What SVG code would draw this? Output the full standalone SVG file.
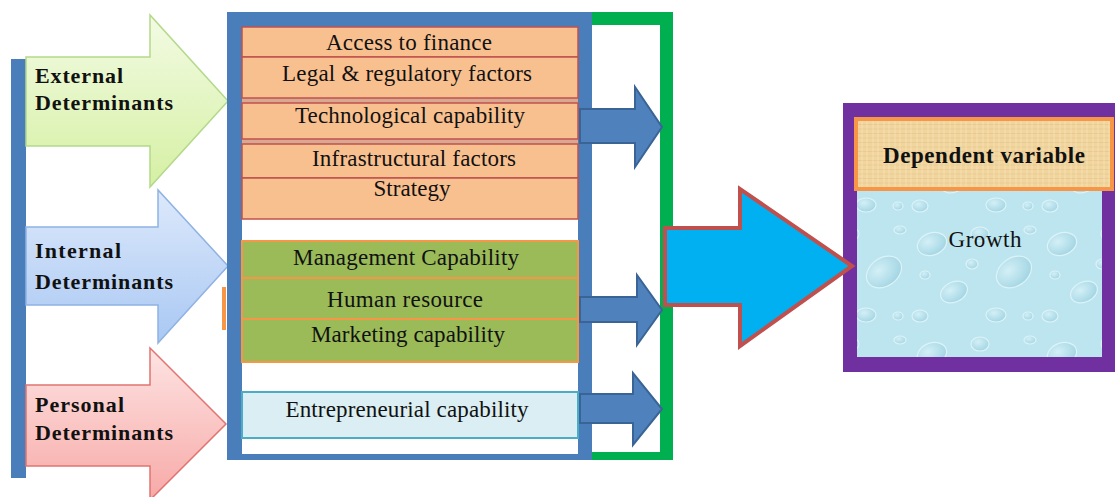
<svg xmlns="http://www.w3.org/2000/svg" width="1115" height="497" viewBox="0 0 1115 497">
  <style>
    .lbl { font-family: "Liberation Serif", "Times New Roman", serif; font-weight: bold; font-size: 22px; fill: #111; }
    .row { font-family: "Liberation Serif", "Times New Roman", serif; font-size: 23px; fill: #111; text-anchor: middle; }
    .ext-row { fill: #f9c08f; stroke: #c0504d; stroke-width: 1.5; }
    .int-row { fill: #9bbb59; stroke: #f79646; stroke-width: 2; }
    .flow { fill: #4f81bd; stroke: #3a6496; stroke-width: 2; stroke-linejoin: miter; }
  </style>
  <defs>
    <linearGradient id="gExt" x1="0" y1="0" x2="0" y2="1">
      <stop offset="0" stop-color="#f3fbe4"/>
      <stop offset="1" stop-color="#d5f0a3"/>
    </linearGradient>
    <linearGradient id="gInt" x1="0" y1="0" x2="0" y2="1">
      <stop offset="0" stop-color="#dde9fb"/>
      <stop offset="1" stop-color="#a9c8f3"/>
    </linearGradient>
    <linearGradient id="gPer" x1="0" y1="0" x2="0" y2="1">
      <stop offset="0" stop-color="#fde4e3"/>
      <stop offset="1" stop-color="#f7a9a7"/>
    </linearGradient>
    <!-- parchment weave -->
    <pattern id="parch" width="11" height="9" patternUnits="userSpaceOnUse">
      <rect width="11" height="9" fill="#f1d59f"/>
      <path d="M0 3H11M0 7.5H11" stroke="#e2c084" stroke-width="1" opacity="0.55"/>
      <path d="M4 0V9M9 0V9" stroke="#f7e3b8" stroke-width="1" opacity="0.6"/>
    </pattern>
    <!-- water droplets -->
    <radialGradient id="drop" cx="0.4" cy="0.35" r="0.75">
      <stop offset="0" stop-color="#d9f2f8"/>
      <stop offset="0.7" stop-color="#a9d9e6"/>
      <stop offset="1" stop-color="#93cbdb"/>
    </radialGradient>
    <pattern id="water" width="130" height="110" patternUnits="userSpaceOnUse">
      <rect width="130" height="110" fill="#bde5ef"/>
      <g fill="url(#drop)" stroke="#e4f6fa" stroke-width="1.2" opacity="0.8">
        <ellipse cx="22" cy="24" rx="15" ry="11" transform="rotate(-20 22 24)"/>
        <ellipse cx="70" cy="14" rx="9" ry="7"/>
        <ellipse cx="104" cy="52" rx="19" ry="14" transform="rotate(-35 104 52)"/>
        <ellipse cx="44" cy="72" rx="14" ry="10" transform="rotate(-25 44 72)"/>
        <ellipse cx="10" cy="96" rx="8" ry="6"/>
        <ellipse cx="86" cy="95" rx="10" ry="7"/>
        <ellipse cx="62" cy="44" rx="6" ry="5"/>
        <ellipse cx="120" cy="10" rx="6" ry="4"/>
        <ellipse cx="15" cy="55" rx="5" ry="4"/>
        <ellipse cx="118" cy="96" rx="5" ry="4"/>
      </g>
    </pattern>
  </defs>

  <rect width="1115" height="497" fill="#fff"/>

  <!-- vertical spine behind the determinant arrows -->
  <rect id="spine" x="11" y="59" width="15" height="419" fill="#4a7ebb"/>

  <!-- determinant arrows -->
  <g id="external-determinants">
    <polygon points="26,57 150,57 150,15 228,101 150,187 150,146 26,146" fill="url(#gExt)" stroke="#b3d98a" stroke-width="1.5"/>
    <text class="lbl" x="35" y="83" textLength="88" lengthAdjust="spacing">External</text>
    <text class="lbl" x="35" y="110" textLength="138" lengthAdjust="spacing">Determinants</text>
  </g>
  <g id="internal-determinants">
    <polygon points="26,227 158,227 158,190 228,266 158,343 158,305 26,305" fill="url(#gInt)" stroke="#8fb3e3" stroke-width="1.5"/>
    <text class="lbl" x="35" y="258" textLength="86" lengthAdjust="spacing">Internal</text>
    <text class="lbl" x="35" y="289" textLength="138" lengthAdjust="spacing">Determinants</text>
  </g>
  <g id="personal-determinants">
    <polygon points="26,385 150,385 150,348 226,424 150,500 150,466 26,466" fill="url(#gPer)" stroke="#e07470" stroke-width="1.5"/>
    <text class="lbl" x="35" y="412" textLength="89" lengthAdjust="spacing">Personal</text>
    <text class="lbl" x="35" y="440" textLength="138" lengthAdjust="spacing">Determinants</text>
  </g>

  <!-- small orange mark left of the internal block -->
  <rect x="222" y="287" width="4" height="43" fill="#f79646"/>

  <!-- green collector frame -->
  <g id="collector-frame">
    <path d="M585,12 H673 V460 H585 Z M585,25 V452 H660 V25 Z" fill="#00b050" fill-rule="evenodd"/>
  </g>

  <!-- determinants frame with factor rows -->
  <g id="factor-frame">
    <path d="M227,12 H592 V460 H227 Z M242,27 V454 H578 V27 Z" fill="#4a7ebb" fill-rule="evenodd"/>
  </g>

  <g id="external-factors">
    <rect x="242" y="98" width="336" height="46" fill="#d9a890"/>
    <rect class="ext-row" x="242" y="27" width="336" height="30"/>
    <rect class="ext-row" x="242" y="57" width="336" height="41"/>
    <rect class="ext-row" x="242" y="103" width="336" height="36"/>
    <rect class="ext-row" x="242" y="144" width="336" height="34"/>
    <rect class="ext-row" x="242" y="178" width="336" height="41"/>
    <text class="row" x="409" y="50" textLength="166" lengthAdjust="spacing">Access to finance</text>
    <text class="row" x="407" y="81" textLength="250" lengthAdjust="spacing">Legal &amp; regulatory factors</text>
    <text class="row" x="410" y="123" textLength="230" lengthAdjust="spacing">Technological capability</text>
    <text class="row" x="414" y="166" textLength="204" lengthAdjust="spacing">Infrastructural factors</text>
    <text class="row" x="412" y="196" textLength="77" lengthAdjust="spacing">Strategy</text>
  </g>

  <g id="internal-factors">
    <rect class="int-row" x="242" y="241" width="336" height="37"/>
    <rect class="int-row" x="242" y="278" width="336" height="41"/>
    <rect class="int-row" x="242" y="319" width="336" height="43"/>
    <text class="row" x="406" y="265" textLength="226" lengthAdjust="spacing">Management Capability</text>
    <text class="row" x="405" y="307" textLength="156" lengthAdjust="spacing">Human resource</text>
    <text class="row" x="408" y="342" textLength="194" lengthAdjust="spacing">Marketing capability</text>
  </g>

  <g id="personal-factors">
    <rect x="242" y="392" width="336" height="46" fill="#daeef3" stroke="#4bacc6" stroke-width="2"/>
    <text class="row" x="407" y="417" textLength="243" lengthAdjust="spacing">Entrepreneurial capability</text>
  </g>

  <!-- outcome box -->
  <g id="growth">
    <path d="M843,103 H1115 V372 H843 Z M857,117 V357 H1102 V117 Z" fill="#7030a0" fill-rule="evenodd"/>
    <rect x="857" y="190" width="245" height="167" fill="url(#water)"/>
    <rect x="856" y="119" width="256" height="70" fill="url(#parch)" stroke="#f79646" stroke-width="4"/>
    <text x="984" y="163" text-anchor="middle" font-family="'Liberation Serif', 'Times New Roman', serif" font-weight="bold" font-size="23" fill="#111" textLength="202" lengthAdjust="spacing">Dependent variable</text>
    <text x="985" y="247" text-anchor="middle" font-family="'Liberation Serif', 'Times New Roman', serif" font-size="23" fill="#111" textLength="73" lengthAdjust="spacing">Growth</text>
  </g>

  <!-- connectors -->
  <g id="connectors">
    <polygon class="flow" points="580,109 635,109 635,87 662,127 635,167 635,143 580,143"/>
    <polygon class="flow" points="580,297 637,297 637,275 662,310 637,345 637,322 580,322"/>
    <polygon class="flow" points="580,394 633,394 633,373 662,409 633,445 633,423 580,423"/>
    <polygon points="665,228 740,228 740,189 852,266 740,346 740,305 665,305" fill="#00b0f0" stroke="#c0504d" stroke-width="4" stroke-linejoin="miter"/>
  </g>
</svg>
